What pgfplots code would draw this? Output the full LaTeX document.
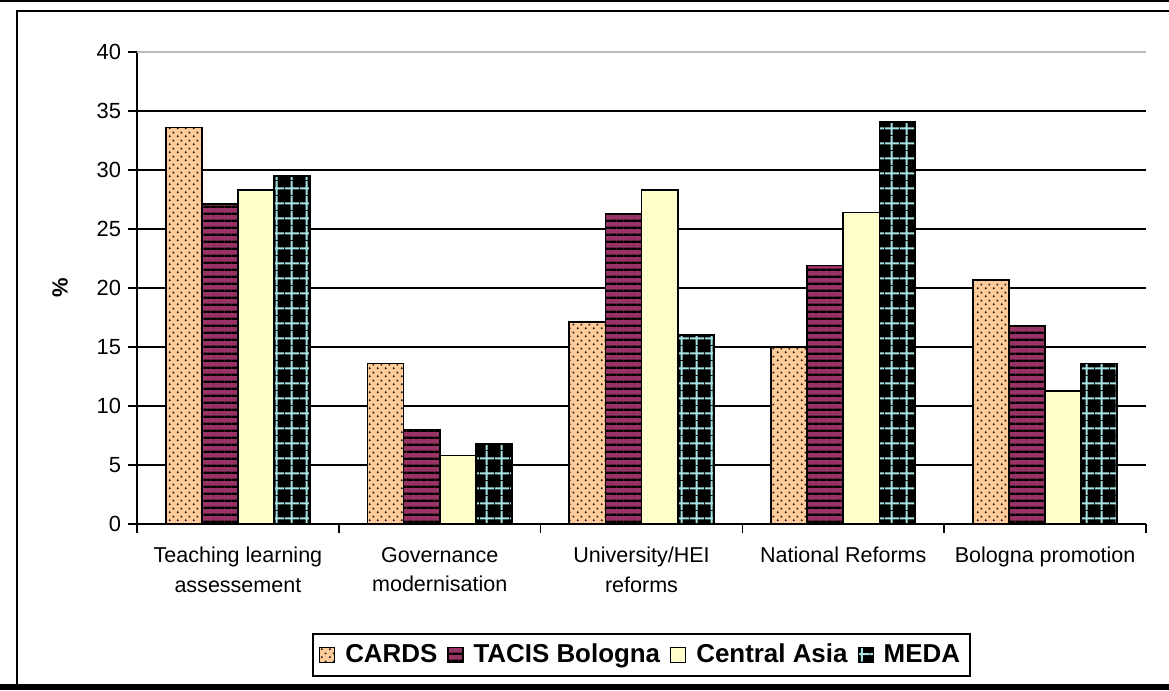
\documentclass[border=0pt]{standalone}
\usepackage{fontspec}
\setmainfont{Liberation Sans}
\usepackage{pgfplots}
\pgfplotsset{compat=1.18}
\usetikzlibrary{patterns}
\definecolor{cards}{HTML}{FFCC99}
\definecolor{tacis}{HTML}{993366}
\definecolor{casia}{HTML}{FFFFCC}
\definecolor{medagrid}{HTML}{A8E4E4}
\pgfdeclarepatternformonly{mydots}{\pgfqpoint{0bp}{0bp}}{\pgfqpoint{4bp}{4bp}}{\pgfqpoint{4bp}{4bp}}{%
  \pgfpathcircle{\pgfqpoint{1bp}{1bp}}{0.6bp}%
  \pgfpathcircle{\pgfqpoint{3bp}{3bp}}{0.6bp}%
  \pgfusepath{fill}}
\pgfdeclarepatternformonly{myhlines}{\pgfqpoint{0bp}{0bp}}{\pgfqpoint{3.65bp}{3.65bp}}{\pgfqpoint{3.65bp}{3.65bp}}{%
  \pgfpathrectangle{\pgfqpoint{0bp}{0bp}}{\pgfqpoint{3.65bp}{1.3bp}}%
  \pgfusepath{fill}}
\pgfdeclarepatternformonly{mygrid}{\pgfqpoint{0bp}{0bp}}{\pgfqpoint{7.5bp}{7.5bp}}{\pgfqpoint{7.5bp}{7.5bp}}{%
  \pgfpathrectangle{\pgfqpoint{0bp}{3bp}}{\pgfqpoint{7.5bp}{1.1bp}}%
  \pgfpathrectangle{\pgfqpoint{3bp}{0bp}}{\pgfqpoint{1.1bp}{7.5bp}}%
  \pgfusepath{fill}}
\begin{document}
\begin{tikzpicture}[x=0.5bp,y=0.5bp]
\useasboundingbox (0,0) rectangle (1169,690);
\fill[black] (0,687.5) rectangle (1169,690);
\draw[black, line width=1bp] (16.5,6) -- (16.5,679) -- (1169,679);
\fill[black] (0,0) rectangle (1169,6);
\begin{axis}[
  at={(68.5bp,83bp)}, anchor=south west,
  scale only axis, width=504.5bp, height=236bp,
  ybar=0pt, bar width=0.179,
  xmin=-0.5, xmax=4.5, ymin=0, ymax=40,
  xtick={0,...,4},
  xticklabels={Teaching learning\\assessement, Governance\\modernisation, University/HEI\\reforms, National Reforms, Bologna promotion},
  minor xtick={-0.5,0.5,...,4.5},
  ytick={0,5,...,35},
  extra y ticks={40},
  extra y tick style={major grid style={gray!55, line width=0.75bp}},
  ymajorgrids,
  major grid style={black, line width=0.75bp},
  axis x line*=bottom, axis y line*=left,
  axis line style={black, line width=0.75bp, -},
  tick align=outside,
  major tick length=4.5bp, minor tick length=4.5bp,
  tick style={black, line width=0.75bp},
  major x tick style={draw=none},
  minor x tick style={black, line width=0.75bp},
  xticklabel style={align=center, font=\fontsize{10.8}{15}\selectfont, yshift=-3.5bp},
  yticklabel style={font=\fontsize{11}{12}\selectfont},
  /pgf/number format/assume math mode=true,
  ylabel={\%},
  every axis y label/.style={at={(axis description cs:-0.0763,0.5)}, rotate=90, anchor=center, font=\bfseries\fontsize{11}{12}\selectfont},
  legend style={at={(axis description cs:0.5,-0.2775)}, anchor=center, legend columns=-1, draw=black, line width=0.75bp,
    font=\bfseries\fontsize{13}{15}\selectfont, inner xsep=3bp, inner ysep=2.5bp,
    nodes={inner xsep=2bp, inner ysep=2.5bp},
    /tikz/every even column/.append style={column sep=3bp},
    /tikz/every odd column/.append style={column sep=3bp}},
  legend image code/.code={\draw[#1, line width=0.6bp] (0bp,-3.75bp) rectangle (7.5bp,3.75bp);},
]
\addplot[fill=cards, draw=black, line width=0.9bp, postaction={pattern=mydots, pattern color=black!85}]
  coordinates {(0,33.6) (1,13.6) (2,17.1) (3,15.0) (4,20.7)};
\addplot[fill=tacis, draw=black, line width=0.9bp, postaction={pattern=myhlines, pattern color=black}]
  coordinates {(0,27.1) (1,8.0) (2,26.3) (3,21.9) (4,16.8)};
\addplot[fill=casia, draw=black, line width=0.9bp]
  coordinates {(0,28.3) (1,5.8) (2,28.3) (3,26.4) (4,11.3)};
\addplot[fill=black, draw=black, line width=0.9bp, postaction={pattern=mygrid, pattern color=medagrid}]
  coordinates {(0,29.5) (1,6.8) (2,16.0) (3,34.1) (4,13.6)};
\legend{CARDS, TACIS Bologna, Central Asia, MEDA}
\end{axis}
\end{tikzpicture}
\end{document}
